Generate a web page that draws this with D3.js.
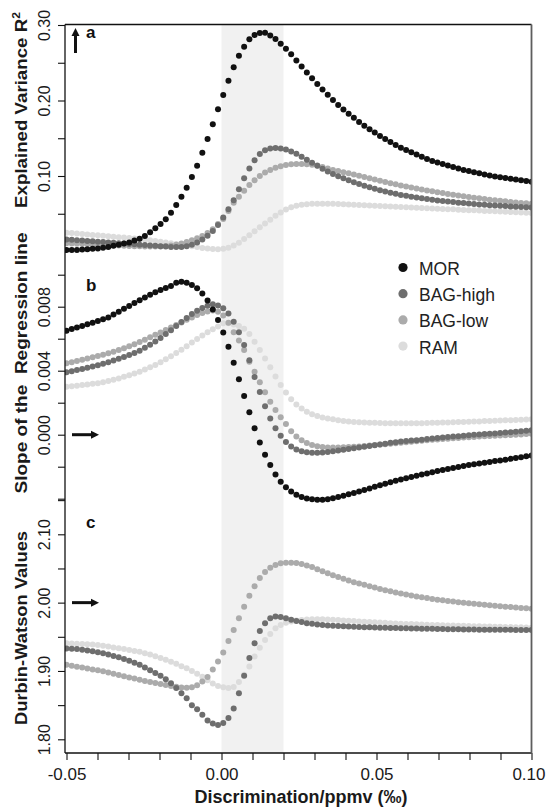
<!DOCTYPE html>
<html>
<head>
<meta charset="utf-8">
<script src="https://cdn.jsdelivr.net/npm/d3@7"></script>
<style>
  body { margin: 0; background: #fff; }
  svg { display: block; font-family: "Liberation Sans", Arial, Helvetica, sans-serif; }
</style>
</head>
<body>
<div id="chart"></div>
<script>
const seriesNames = ["MOR", "BAG-high", "BAG-low", "RAM"];
const seriesColors = ["#111111", "#6e6e6e", "#ababab", "#dcdcdc"];

// sample grid of the discrimination values (90 steps from -0.05 to 0.10)
const discrimination = d3.range(90).map(i => -0.05 + i * 0.15 / 89);
const bandRange = [0, 0.02];

const xTicks = [-0.05, -0.04, -0.03, -0.02, -0.01, 0, 0.01, 0.02, 0.03, 0.04, 0.05, 0.06, 0.07, 0.08, 0.09, 0.10];
const xLabels = [-0.05, 0, 0.05, 0.10];

// panel a: explained variance R2
const r2Ticks = [0.05, 0.10, 0.15, 0.20, 0.25, 0.30];
const r2Labels = [0.10, 0.20, 0.30];
const r2MOR = [0.002, 0.002, 0.002, 0.0025, 0.003, 0.0035, 0.004, 0.005, 0.006, 0.0075,
  0.009, 0.0105, 0.012, 0.0145, 0.017, 0.0205, 0.0254, 0.0307, 0.0364, 0.0426,
  0.0514, 0.0616, 0.0726, 0.0845, 0.0987, 0.1136, 0.1309, 0.149, 0.1685, 0.1883,
  0.2073, 0.2262, 0.244, 0.2593, 0.2713, 0.281, 0.2866, 0.2894, 0.2898, 0.2862,
  0.2813, 0.2752, 0.2687, 0.2612, 0.253, 0.245, 0.237, 0.2295, 0.222, 0.2145,
  0.2075, 0.2005, 0.194, 0.188, 0.1825, 0.177, 0.1715, 0.1665, 0.162, 0.1575,
  0.153, 0.149, 0.145, 0.141, 0.1375, 0.1345, 0.1315, 0.1285, 0.1255, 0.1225,
  0.12, 0.118, 0.116, 0.114, 0.112, 0.11, 0.108, 0.1065, 0.105, 0.1035,
  0.102, 0.1005, 0.0995, 0.0985, 0.0975, 0.0965, 0.0955, 0.0945, 0.0935, 0.0925];
const r2BAGhigh = [0.016, 0.0155, 0.015, 0.0145, 0.014, 0.0135, 0.013, 0.0125, 0.012, 0.0115,
  0.011, 0.0105, 0.010, 0.0095, 0.009, 0.0085, 0.008, 0.0075, 0.007, 0.0065,
  0.006, 0.0058, 0.006, 0.007, 0.009, 0.012, 0.016, 0.021, 0.027, 0.035,
  0.045, 0.056, 0.068, 0.0824, 0.097, 0.110, 0.121, 0.129, 0.134, 0.1365,
  0.137, 0.1365, 0.135, 0.1325, 0.1295, 0.1255, 0.1215, 0.1175, 0.1135, 0.1095,
  0.106, 0.1027, 0.0997, 0.0969, 0.0943, 0.0918, 0.0894, 0.0871, 0.085, 0.083,
  0.0812, 0.0795, 0.0779, 0.0764, 0.075, 0.0737, 0.0725, 0.0714, 0.0704, 0.0694,
  0.0685, 0.0677, 0.0669, 0.0661, 0.0654, 0.0647, 0.0641, 0.0635, 0.0629, 0.0624,
  0.0619, 0.0614, 0.0609, 0.0605, 0.0601, 0.0597, 0.0593, 0.0589, 0.0585, 0.0582];
const r2BAGlow = [0.011, 0.0107, 0.0104, 0.0101, 0.0098, 0.0095, 0.0092, 0.0089, 0.0086, 0.0083,
  0.008, 0.0077, 0.0074, 0.0071, 0.0068, 0.0066, 0.0065, 0.0065, 0.0067, 0.0072,
  0.008, 0.009, 0.0105, 0.0125, 0.015, 0.0175, 0.0205, 0.0245, 0.0294, 0.0364,
  0.043, 0.0536, 0.0647, 0.0725, 0.0805, 0.088, 0.0945, 0.100, 0.1045, 0.108,
  0.111, 0.113, 0.1145, 0.1155, 0.116, 0.116, 0.1155, 0.115, 0.114, 0.112,
  0.110, 0.108, 0.1065, 0.105, 0.1035, 0.102, 0.1003, 0.0986, 0.0969, 0.0952,
  0.0936, 0.092, 0.0905, 0.089, 0.0875, 0.0861, 0.0847, 0.0834, 0.0821, 0.0809,
  0.0797, 0.0785, 0.0774, 0.0763, 0.0752, 0.0742, 0.0732, 0.0722, 0.0713, 0.0704,
  0.0695, 0.0687, 0.0679, 0.0671, 0.0664, 0.0657, 0.065, 0.0644, 0.0638, 0.0632];
const r2RAM = [0.025, 0.0244, 0.0238, 0.0232, 0.0226, 0.022, 0.0214, 0.0208, 0.0202, 0.0196,
  0.019, 0.0184, 0.0178, 0.0172, 0.0166, 0.016, 0.015, 0.014, 0.013, 0.012,
  0.011, 0.010, 0.009, 0.008, 0.007, 0.0058, 0.0048, 0.004, 0.0034, 0.0031,
  0.0035, 0.005, 0.0078, 0.0117, 0.0164, 0.0215, 0.0269, 0.032, 0.0372, 0.0422,
  0.0472, 0.0518, 0.0556, 0.0587, 0.0607, 0.062, 0.0627, 0.0631, 0.0633, 0.0634,
  0.0634, 0.0631, 0.0628, 0.0625, 0.0622, 0.0618, 0.0615, 0.0612, 0.0609, 0.0606,
  0.0602, 0.0599, 0.0596, 0.0593, 0.059, 0.0586, 0.0583, 0.058, 0.0577, 0.0574,
  0.057, 0.0567, 0.0564, 0.0561, 0.0558, 0.0554, 0.0551, 0.0548, 0.0545, 0.0542,
  0.0538, 0.0535, 0.0532, 0.0529, 0.0526, 0.0522, 0.0519, 0.0516, 0.0513, 0.051];

// panel b: slope of the regression line
const slopeTicks = [-0.004, -0.002, 0, 0.002, 0.004, 0.006, 0.008, 0.010];
const slopeLabels = [0, 0.004, 0.008];
const slopeMOR = [0.0065, 0.0066, 0.0067, 0.0068, 0.0069, 0.0070, 0.0071, 0.00721, 0.00733, 0.00751,
  0.00769, 0.00787, 0.00805, 0.00823, 0.00841, 0.00858, 0.00875, 0.0089, 0.00904, 0.00917,
  0.00929, 0.0095, 0.00956, 0.0095, 0.00935, 0.00915, 0.00883, 0.00838, 0.00783, 0.00717,
  0.00638, 0.0055, 0.0045, 0.00346, 0.00242, 0.0014, 0.0004, -0.00048, -0.00125, -0.0019,
  -0.00248, -0.00294, -0.00329, -0.00355, -0.00376, -0.0039, -0.00398, -0.00403, -0.00406, -0.00406,
  -0.00404, -0.00397, -0.0039, -0.00381, -0.00372, -0.00364, -0.00355, -0.00346, -0.00336, -0.00326,
  -0.00316, -0.00307, -0.00297, -0.00288, -0.0028, -0.00272, -0.00264, -0.00256, -0.00249, -0.00242,
  -0.00234, -0.00227, -0.0022, -0.00214, -0.00208, -0.00202, -0.00196, -0.0019, -0.00185, -0.0018,
  -0.00175, -0.0017, -0.00165, -0.00161, -0.00156, -0.00151, -0.00146, -0.00141, -0.00135, -0.0013];
const slopeBAGhigh = [0.0039, 0.00397, 0.00404, 0.00411, 0.00418, 0.00426, 0.00434, 0.00443, 0.00453, 0.00464,
  0.00475, 0.00486, 0.00498, 0.0051, 0.00525, 0.00543, 0.00562, 0.00582, 0.00605, 0.00629,
  0.00653, 0.0068, 0.00705, 0.0073, 0.00755, 0.00775, 0.00792, 0.00806, 0.00815, 0.00808,
  0.0079, 0.00758, 0.00706, 0.0064, 0.0056, 0.00465, 0.0036, 0.00267, 0.00178, 0.00102,
  0.00041, -0.00007, -0.00045, -0.00073, -0.00092, -0.00103, -0.0011, -0.00113, -0.00113, -0.00111,
  -0.00108, -0.00104, -0.00099, -0.00094, -0.0009, -0.00085, -0.0008, -0.00075, -0.0007, -0.00066,
  -0.00061, -0.00056, -0.00051, -0.00047, -0.00043, -0.0004, -0.00037, -0.00034, -0.00031, -0.00027,
  -0.00024, -0.00021, -0.00018, -0.00015, -0.00012, -0.00009, -0.00006, -0.00003, 0, 0.00002,
  0.00004, 0.00006, 0.00008, 0.0001, 0.00013, 0.00016, 0.00019, 0.00022, 0.00025, 0.00028];
const slopeBAGlow = [0.00446, 0.00453, 0.0046, 0.00468, 0.00476, 0.00484, 0.00492, 0.005, 0.00509, 0.00519,
  0.0053, 0.00541, 0.00553, 0.00566, 0.0058, 0.00594, 0.00609, 0.00624, 0.00639, 0.00655,
  0.0067, 0.00686, 0.00702, 0.00718, 0.00733, 0.00748, 0.0076, 0.0077, 0.00776, 0.00768,
  0.00745, 0.0070, 0.0064, 0.00588, 0.0053, 0.00456, 0.00394, 0.00328, 0.00265, 0.00206,
  0.00154, 0.00109, 0.00067, 0.00022, -0.00012, -0.00035, -0.00052, -0.00064, -0.00072, -0.00077,
  -0.0008, -0.0008, -0.0008, -0.00079, -0.00077, -0.00075, -0.00073, -0.0007, -0.00068, -0.00065,
  -0.00062, -0.00059, -0.00056, -0.00053, -0.0005, -0.00047, -0.00044, -0.00041, -0.00038, -0.00035,
  -0.00032, -0.0003, -0.00027, -0.00025, -0.00022, -0.0002, -0.00018, -0.00016, -0.00014, -0.00012,
  -0.0001, -0.00008, -0.00006, -0.00005, -0.00003, -0.00002, 0, 0.00002, 0.00004, 0.00006];
const slopeRAM = [0.003, 0.00303, 0.00306, 0.0031, 0.00314, 0.00318, 0.00322, 0.00328, 0.00335, 0.00343,
  0.00352, 0.00362, 0.00372, 0.00383, 0.00394, 0.00407, 0.00421, 0.00436, 0.00453, 0.00471,
  0.0049, 0.0051, 0.00531, 0.00553, 0.00576, 0.00598, 0.0062, 0.0064, 0.00659, 0.00676,
  0.00696, 0.00697, 0.00688, 0.0068, 0.00662, 0.0063, 0.00581, 0.0053, 0.00477, 0.00421,
  0.00363, 0.00311, 0.00263, 0.00222, 0.00189, 0.00163, 0.00143, 0.00128, 0.00117, 0.00108,
  0.00101, 0.00096, 0.0009, 0.00086, 0.00083, 0.0008, 0.00078, 0.00076, 0.00075, 0.00074,
  0.00073, 0.00072, 0.00072, 0.00071, 0.00071, 0.00071, 0.00071, 0.00072, 0.00072, 0.00073,
  0.00074, 0.00075, 0.00076, 0.00077, 0.00078, 0.00079, 0.0008, 0.00081, 0.00082, 0.00083,
  0.00085, 0.00086, 0.00087, 0.00088, 0.0009, 0.00091, 0.00092, 0.00094, 0.00095, 0.00096];

// panel c: Durbin-Watson values (no MOR series here)
const dwTicks = [1.80, 1.85, 1.90, 1.95, 2.00, 2.05, 2.10, 2.15];
const dwLabels = [1.80, 1.90, 2.00, 2.10];
const dwBAGhigh = [1.933, 1.9325, 1.932, 1.931, 1.930, 1.929, 1.9275, 1.926, 1.924, 1.922,
  1.920, 1.9175, 1.915, 1.912, 1.909, 1.905, 1.901, 1.897, 1.893, 1.888,
  1.882, 1.875, 1.8675, 1.860, 1.850, 1.844, 1.836, 1.8275, 1.823, 1.821,
  1.824, 1.831, 1.845, 1.8675, 1.893, 1.919, 1.9405, 1.9585, 1.970, 1.977,
  1.9796, 1.979, 1.977, 1.975, 1.973, 1.9715, 1.970, 1.969, 1.968, 1.9672,
  1.9666, 1.9661, 1.9657, 1.9653, 1.965, 1.9647, 1.9644, 1.9641, 1.9638, 1.9636,
  1.9634, 1.9632, 1.963, 1.9628, 1.9626, 1.9624, 1.9622, 1.962, 1.9618, 1.9617,
  1.9616, 1.9614, 1.9613, 1.9612, 1.961, 1.9609, 1.9608, 1.9607, 1.9606, 1.9605,
  1.9605, 1.9604, 1.9603, 1.9603, 1.9602, 1.9602, 1.9601, 1.9601, 1.960, 1.960];
const dwBAGlow = [1.909, 1.9077, 1.9063, 1.905, 1.9036, 1.9023, 1.9009, 1.8995, 1.8978, 1.896,
  1.8942, 1.8924, 1.8906, 1.8888, 1.887, 1.8855, 1.884, 1.8825, 1.881, 1.8795,
  1.878, 1.8768, 1.8758, 1.8755, 1.876, 1.879, 1.8845, 1.891, 1.902, 1.914,
  1.927, 1.944, 1.960, 1.977, 1.994, 2.010, 2.024, 2.036, 2.045, 2.051,
  2.055, 2.0575, 2.0585, 2.0585, 2.058, 2.0565, 2.0545, 2.052, 2.049, 2.046,
  2.043, 2.040, 2.0375, 2.035, 2.0325, 2.030, 2.028, 2.026, 2.024, 2.022,
  2.020, 2.018, 2.0165, 2.015, 2.0135, 2.012, 2.0105, 2.009, 2.0078, 2.0066,
  2.0055, 2.0044, 2.0034, 2.0024, 2.0015, 2.0006, 1.9998, 1.999, 1.9982, 1.9975,
  1.9968, 1.9961, 1.9954, 1.9947, 1.9941, 1.9935, 1.9929, 1.9923, 1.9917, 1.9911];
const dwRAM = [1.9405, 1.9402, 1.9399, 1.9395, 1.9391, 1.9386, 1.938, 1.9368, 1.9357, 1.9345,
  1.9333, 1.932, 1.9306, 1.9292, 1.928, 1.926, 1.924, 1.9215, 1.919, 1.9163,
  1.9135, 1.9105, 1.907, 1.904, 1.900, 1.896, 1.8915, 1.8865, 1.8815, 1.878,
  1.876, 1.875, 1.8765, 1.884, 1.8945, 1.9065, 1.921, 1.934, 1.9455, 1.954,
  1.9625, 1.9674, 1.9705, 1.9725, 1.974, 1.9747, 1.9752, 1.9756, 1.9757, 1.9756,
  1.9753, 1.975, 1.9745, 1.974, 1.9735, 1.973, 1.9725, 1.972, 1.9716, 1.9712,
  1.9708, 1.9704, 1.97, 1.9696, 1.9692, 1.9689, 1.9686, 1.9683, 1.968, 1.9677,
  1.9674, 1.9671, 1.9668, 1.9666, 1.9664, 1.9662, 1.966, 1.9658, 1.9656, 1.9654,
  1.9652, 1.965, 1.9648, 1.9646, 1.9644, 1.9642, 1.964, 1.9638, 1.9636, 1.9634];

const width = 546, height = 808;
const plotLeft = 65, plotRight = 531.5, plotTop = 24.5, plotBottom = 753;
const fontFamily = "'Liberation Sans', Arial, Helvetica, sans-serif";

const svg = d3.select("#chart")
    .append("svg")
    .attr("width", width)
    .attr("height", height);

const x = d3.scaleLinear()
    .domain([-0.05, 0.10])
    .range([66.5, 531.5]);

svg.append("defs").append("clipPath")
    .attr("id", "plot-clip")
    .append("rect")
    .attr("x", plotLeft)
    .attr("y", plotTop)
    .attr("width", plotRight - plotLeft)
    .attr("height", plotBottom - plotTop);

// grey band between 0 and 0.02
svg.append("rect")
    .attr("x", x(bandRange[0]))
    .attr("y", plotTop)
    .attr("width", x(bandRange[1]) - x(bandRange[0]))
    .attr("height", plotBottom - plotTop)
    .attr("fill", "#f1f1f1");

const panels = [
    {
        letter: "a", letterY: 38,
        y: d3.scaleLinear().domain([0, 0.30]).range([251.5, 25]),
        series: [r2MOR, r2BAGhigh, r2BAGlow, r2RAM],
        ticks: r2Ticks, labels: r2Labels, fmt: d => d.toFixed(2),
        titleY: 110, titleScale: 1.1
    },
    {
        letter: "b", letterY: 291,
        y: d3.scaleLinear().domain([0, 0.008]).range([434.7, 306.7]),
        series: [slopeMOR, slopeBAGhigh, slopeBAGlow, slopeRAM],
        ticks: slopeTicks, labels: slopeLabels, fmt: d => d.toFixed(3),
        titleY: 363, titleScale: 1.12
    },
    {
        letter: "c", letterY: 528,
        y: d3.scaleLinear().domain([1.80, 2.10]).range([739.3, 534.3]),
        series: [null, dwBAGhigh, dwBAGlow, dwRAM],
        ticks: dwTicks, labels: dwLabels, fmt: d => d.toFixed(2),
        titleY: 628, titleScale: 1.08
    }
];

const isLabelled = (list, d) => list.some(v => Math.abs(v - d) < 1e-9);

// dots, RAM first so MOR sits on top
const dots = svg.append("g").attr("clip-path", "url(#plot-clip)");
panels.forEach(p => {
    [3, 2, 1, 0].forEach(k => {
        const vals = p.series[k];
        if (!vals) return;
        dots.append("g")
            .selectAll("circle")
            .data(vals)
            .join("circle")
            .attr("cx", (d, i) => x(discrimination[i]))
            .attr("cy", d => p.y(d))
            .attr("r", 3)
            .attr("fill", seriesColors[k]);
    });
});

// y axes
panels.forEach(p => {
    const yAxis = d3.axisLeft(p.y)
        .tickValues(p.ticks)
        .tickSize(7)
        .tickFormat(d => isLabelled(p.labels, d) ? p.fmt(d) : "");

    const g = svg.append("g")
        .attr("transform", `translate(${plotLeft},0)`)
        .call(yAxis)
        .attr("font-family", fontFamily)
        .attr("font-size", 16);

    g.select(".domain").remove();
    g.selectAll(".tick line").attr("stroke", "#111").attr("stroke-width", 1.1);
    g.selectAll(".tick text")
        .attr("transform", "rotate(-90)")
        .attr("x", 0)
        .attr("y", -15)
        .attr("dy", null)
        .attr("text-anchor", "middle")
        .attr("fill", "#1a1a1a");

    svg.append("text")
        .attr("x", 86)
        .attr("y", p.letterY)
        .attr("font-family", fontFamily)
        .attr("font-weight", "bold")
        .attr("font-size", 17)
        .attr("fill", "#111")
        .text(p.letter);
});

// y titles
const titleA = svg.append("text")
    .attr("transform", `translate(27,${panels[0].titleY}) rotate(-90) scale(${panels[0].titleScale},1)`)
    .attr("text-anchor", "middle")
    .attr("font-family", fontFamily)
    .attr("font-weight", "bold")
    .attr("font-size", 17)
    .attr("fill", "#1a1a1a");
titleA.append("tspan").text("Explained Variance R");
titleA.append("tspan").attr("dy", -7).attr("font-size", 11).text("2");

svg.append("text")
    .attr("transform", `translate(27,${panels[1].titleY}) rotate(-90) scale(${panels[1].titleScale},1)`)
    .attr("text-anchor", "middle")
    .attr("font-family", fontFamily)
    .attr("font-weight", "bold")
    .attr("font-size", 17)
    .attr("fill", "#1a1a1a")
    .style("white-space", "pre")
    .text("Slope of the  Regression line");

svg.append("text")
    .attr("transform", `translate(27,${panels[2].titleY}) rotate(-90) scale(${panels[2].titleScale},1)`)
    .attr("text-anchor", "middle")
    .attr("font-family", fontFamily)
    .attr("font-weight", "bold")
    .attr("font-size", 17)
    .attr("fill", "#1a1a1a")
    .text("Durbin-Watson Values");

// x axis
const xAxis = d3.axisBottom(x)
    .tickValues(xTicks)
    .tickSize(7)
    .tickFormat(d => isLabelled(xLabels, d) ? d.toFixed(2) : "");

const gx = svg.append("g")
    .attr("transform", `translate(0,${plotBottom})`)
    .call(xAxis)
    .attr("font-family", fontFamily)
    .attr("font-size", 17);
gx.select(".domain").remove();
gx.selectAll(".tick line").attr("stroke", "#111").attr("stroke-width", 1.1);
gx.selectAll(".tick text")
    .attr("y", 27)
    .attr("dy", null)
    .attr("fill", "#1a1a1a");
// keep the last label inside the page
gx.selectAll(".tick text")
    .filter(d => Math.abs(d - 0.10) < 1e-9)
    .attr("text-anchor", "end")
    .attr("x", width - 1 - x(0.10));

svg.append("text")
    .attr("x", 301)
    .attr("y", 803)
    .attr("text-anchor", "middle")
    .attr("font-family", fontFamily)
    .attr("font-weight", "bold")
    .attr("font-size", 18)
    .attr("fill", "#1a1a1a")
    .text("Discrimination/ppmv (\u2030)");

// frame
svg.append("line")
    .attr("x1", plotLeft).attr("x2", plotLeft)
    .attr("y1", plotTop).attr("y2", plotBottom)
    .attr("stroke", "#111").attr("stroke-width", 1.3);
svg.append("line")
    .attr("x1", plotLeft).attr("x2", plotRight)
    .attr("y1", plotTop).attr("y2", plotTop)
    .attr("stroke", "#111").attr("stroke-width", 1.3);
svg.append("line")
    .attr("x1", plotLeft).attr("x2", plotRight)
    .attr("y1", plotBottom).attr("y2", plotBottom)
    .attr("stroke", "#111").attr("stroke-width", 1.3);
svg.append("line")
    .attr("x1", plotRight).attr("x2", plotRight)
    .attr("y1", plotTop).attr("y2", plotBottom)
    .attr("stroke", "#5e5e5e").attr("stroke-width", 1.8);

// reference arrows
const arrows = svg.append("g").attr("fill", "#111").attr("stroke", "#111");
arrows.append("line")
    .attr("x1", 75.5).attr("x2", 75.5).attr("y1", 53).attr("y2", 35)
    .attr("stroke-width", 3);
arrows.append("path")
    .attr("d", "M71.5,36 L79.5,36 L75.5,28 Z")
    .attr("stroke", "none");
[panels[1].y(0), panels[2].y(2.00)].forEach(yy => {
    arrows.append("line")
        .attr("x1", 72).attr("x2", 92).attr("y1", yy).attr("y2", yy)
        .attr("stroke-width", 3);
    arrows.append("path")
        .attr("d", `M91,${yy - 4} L91,${yy + 4} L99,${yy} Z`)
        .attr("stroke", "none");
});

// legend
const legend = svg.append("g").attr("font-family", fontFamily);
seriesNames.forEach((name, k) => {
    const yy = 267.5 + k * 26.2;
    legend.append("circle")
        .attr("cx", 403)
        .attr("cy", yy)
        .attr("r", 4.6)
        .attr("fill", seriesColors[k]);
    legend.append("text")
        .attr("x", 419)
        .attr("y", yy + 7.5)
        .attr("font-size", 17.5)
        .attr("fill", "#222")
        .text(name);
});
</script>
</body>
</html>
